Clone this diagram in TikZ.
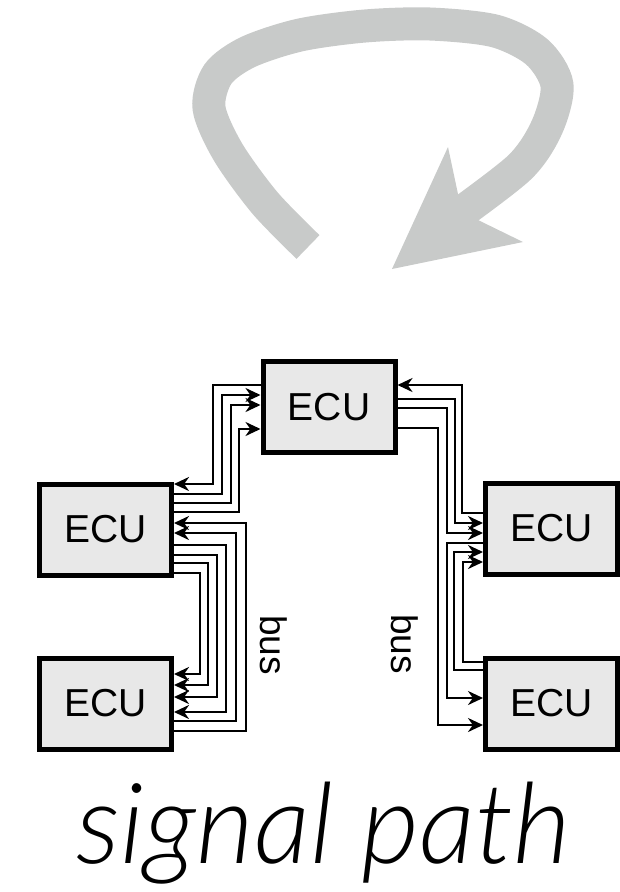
\documentclass[tikz,border=0pt]{standalone}
\usepackage{fontspec}
\setmainfont{Liberation Sans}
\newfontfamily\capfont{Lato}[UprightFont=* Light, ItalicFont=* Light Italic]
\usetikzlibrary{arrows.meta}
\definecolor{ecufill}{HTML}{E8E8E8}
\definecolor{loopgray}{HTML}{C8CAC9}

\begin{document}
\begin{tikzpicture}[x=1pt, y=-1pt, line width=2.5pt,
	ecu/.style={draw, line width=5pt, fill=ecufill, minimum width=132pt, minimum height=91pt, inner sep=0pt, font=\fontsize{39}{44}\selectfont},
	sig/.style={-{Stealth[length=15pt, width=14pt]}},
	buslabel/.style={rotate=-90, inner sep=0pt, font=\fontsize{37}{42}\selectfont}]
	\useasboundingbox (0,0) rectangle (619,892);
	% grey loop arrow
	\draw[loopgray, line width=33pt] plot[smooth] coordinates {(308,247) (265,203) (228,152) (209,108) (218,74) (248,52) (300,35) (365,26) (430,24) (495,31) (537,52) (557,85) (547,127) (520,167) (455,217)};
	\fill[loopgray] (392,269) -- (448,147) -- (458,194) -- (478,220) -- (523,242) -- cycle;
	% ECUs
	\node[ecu] (top) at (329,407) {ECU};
	\node[ecu] (left) at (105.5,529.5) {ECU};
	\node[ecu] (leftlow) at (105.5,703.5) {ECU};
	\node[ecu] (right) at (551.5,528.5) {ECU};
	\node[ecu] (rightlow) at (551.5,703.5) {ECU};
	% bus lines, left side
	\draw[sig] (top.west |- 0,385) -| (213,484) -- (left.east |- 0,484);
	\foreach \ya/\xv/\yb in {395/222/494, 405/231/503, 429/239/512}
		\draw[sig] (left.east |- 0,\yb) -| (\xv,\ya) -- (top.west |- 0,\ya);
	\foreach \ya/\xv/\yb in {523/246/731, 533/236/721}
		\draw[sig] (leftlow.east |- 0,\yb) -| (\xv,\ya) -- (left.east |- 0,\ya);
	\foreach \ya/\xv/\yb in {545/226/712, 555/217/697, 563/208/685, 573/200/674}
		\draw[sig] (left.east |- 0,\ya) -| (\xv,\yb) -- (leftlow.east |- 0,\yb);
	% bus lines, right side
	\draw[sig] (right.west |- 0,513) -| (462,385) -- (top.east |- 0,385);
	\foreach \ya/\xv/\yb in {399/455/523, 408/447/533}
		\draw[sig] (top.east |- 0,\ya) -| (\xv,\yb) -- (right.west |- 0,\yb);
	\draw[sig] (top.east |- 0,428) -| (438,725) -- (rightlow.west |- 0,725);
	\draw[sig] (right.west |- 0,543) -| (447,698) -- (rightlow.west |- 0,698);
	\foreach \ya/\xv/\yb in {552/454/670, 562/463/662}
		\draw[sig] (rightlow.west |- 0,\yb) -| (\xv,\ya) -- (right.west |- 0,\ya);
	\node[buslabel] (busl) at (274,645) {bus};
	\node[buslabel] (busr) at (405,644) {bus};
	\node[font=\capfont\itshape\fontsize{112}{120}\selectfont, anchor=base] (caption) at (324,863) {signal path};
\end{tikzpicture}
\end{document}
